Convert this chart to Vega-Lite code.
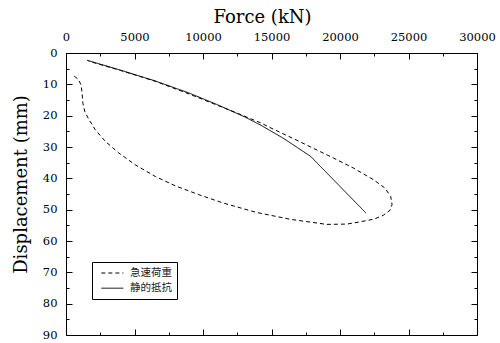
{
  "$schema": "https://vega.github.io/schema/vega-lite/v6.json",
  "width": 411,
  "height": 282,
  "autosize": {"type": "none"},
  "padding": {"left": 66, "top": 53, "right": 23, "bottom": 8},
  "background": "white",
  "config": {
    "view": {"stroke": "black", "strokeWidth": 1},
    "axis": {
      "domain": false, "tickColor": "black", "labelColor": "black", "titleColor": "black",
      "grid": false, "labelFont": "DejaVu Serif", "titleFont": "DejaVu Serif",
      "labelFontSize": 11.5, "titleFontSize": 18, "titleFontWeight": "normal",
      "ticks": true, "tickSize": 6, "tickWidth": 1, "offset": -6
    }
  },
  "data": {"values": [
    {"series": "急速荷重", "order": 1, "force": 600, "disp": 7.4},
    {"series": "急速荷重", "order": 2, "force": 900, "disp": 8.4},
    {"series": "急速荷重", "order": 3, "force": 1100, "disp": 10.2},
    {"series": "急速荷重", "order": 4, "force": 1180, "disp": 13},
    {"series": "急速荷重", "order": 5, "force": 1230, "disp": 16},
    {"series": "急速荷重", "order": 6, "force": 1380, "disp": 18.8},
    {"series": "急速荷重", "order": 7, "force": 1680, "disp": 21.3},
    {"series": "急速荷重", "order": 8, "force": 2140, "disp": 24.5},
    {"series": "急速荷重", "order": 9, "force": 2870, "disp": 28.2},
    {"series": "急速荷重", "order": 10, "force": 3850, "disp": 31.9},
    {"series": "急速荷重", "order": 11, "force": 5060, "disp": 35.7},
    {"series": "急速荷重", "order": 12, "force": 6520, "disp": 39.4},
    {"series": "急速荷重", "order": 13, "force": 7980, "disp": 42.4},
    {"series": "急速荷重", "order": 14, "force": 9690, "disp": 45.2},
    {"series": "急速荷重", "order": 15, "force": 11480, "disp": 47.9},
    {"series": "急速荷重", "order": 16, "force": 13920, "disp": 50.9},
    {"series": "急速荷重", "order": 17, "force": 16400, "disp": 53.1},
    {"series": "急速荷重", "order": 18, "force": 19030, "disp": 54.7},
    {"series": "急速荷重", "order": 19, "force": 20500, "disp": 54.6},
    {"series": "急速荷重", "order": 20, "force": 21460, "disp": 53.9},
    {"series": "急速荷重", "order": 21, "force": 22500, "disp": 53.0},
    {"series": "急速荷重", "order": 22, "force": 23160, "disp": 51.8},
    {"series": "急速荷重", "order": 23, "force": 23650, "disp": 50.2},
    {"series": "急速荷重", "order": 24, "force": 23800, "disp": 48.4},
    {"series": "急速荷重", "order": 25, "force": 23700, "disp": 45.8},
    {"series": "急速荷重", "order": 26, "force": 23280, "disp": 43.1},
    {"series": "急速荷重", "order": 27, "force": 22430, "disp": 40.4},
    {"series": "急速荷重", "order": 28, "force": 20970, "disp": 36.7},
    {"series": "急速荷重", "order": 29, "force": 19510, "disp": 33.5},
    {"series": "急速荷重", "order": 30, "force": 18050, "disp": 30.4},
    {"series": "急速荷重", "order": 31, "force": 16590, "disp": 27.3},
    {"series": "急速荷重", "order": 32, "force": 15130, "disp": 24.3},
    {"series": "急速荷重", "order": 33, "force": 14160, "disp": 22.2},
    {"series": "急速荷重", "order": 34, "force": 12500, "disp": 19.2},
    {"series": "急速荷重", "order": 35, "force": 11000, "disp": 16.6},
    {"series": "急速荷重", "order": 36, "force": 9000, "disp": 13.1},
    {"series": "急速荷重", "order": 37, "force": 6500, "disp": 9.0},
    {"series": "急速荷重", "order": 38, "force": 4000, "disp": 5.6},
    {"series": "急速荷重", "order": 39, "force": 1650, "disp": 2.6},
    {"series": "静的抵抗", "order": 1, "force": 1530, "disp": 2.3},
    {"series": "静的抵抗", "order": 2, "force": 4000, "disp": 5.5},
    {"series": "静的抵抗", "order": 3, "force": 6500, "disp": 8.9},
    {"series": "静的抵抗", "order": 4, "force": 9000, "disp": 12.8},
    {"series": "静的抵抗", "order": 5, "force": 11000, "disp": 16.4},
    {"series": "静的抵抗", "order": 6, "force": 13000, "disp": 20.3},
    {"series": "静的抵抗", "order": 7, "force": 14160, "disp": 22.9},
    {"series": "静的抵抗", "order": 8, "force": 15860, "disp": 27.2},
    {"series": "静的抵抗", "order": 9, "force": 17860, "disp": 33.0},
    {"series": "静的抵抗", "order": 10, "force": 21900, "disp": 51.1}
  ]},
  "layer": [
    {
      "mark": {"type": "line", "color": "black", "strokeWidth": 1},
      "encoding": {
        "x": {"field": "force", "type": "quantitative",
          "scale": {"domain": [0, 30000], "nice": false, "zero": false},
          "axis": {"orient": "top", "values": [0,2500,5000,7500,10000,12500,15000,17500,20000,22500,25000,27500,30000],
            "labelExpr": "datum.value % 5000 === 0 ? format(datum.value, 'd') : ''",
            "labelPadding": 11, "labelFlush": false, "labelOverlap": false,
            "tickDash": {"condition": {"test": "datum.value % 5000 !== 0", "value": [0, 3, 3, 0]}, "value": []},
            "title": "Force (kN)", "titlePadding": 5, "titleX": 196}},
        "y": {"field": "disp", "type": "quantitative",
          "scale": {"domain": [0, 90], "reverse": true, "nice": false, "zero": false},
          "axis": {"orient": "left", "values": [0,5,10,15,20,25,30,35,40,45,50,55,60,65,70,75,80,85,90],
            "labelExpr": "datum.value % 10 === 0 ? format(datum.value, 'd') : ''",
            "labelPadding": 9, "labelFlush": false, "labelOverlap": false,
            "tickDash": {"condition": {"test": "datum.value % 10 !== 0", "value": [0, 3, 3, 0]}, "value": []},
            "title": "Displacement (mm)", "titlePadding": 12, "titleY": 131}},
        "strokeDash": {"field": "series", "type": "nominal",
          "scale": {"domain": ["急速荷重", "静的抵抗"], "range": [[4, 3], [1, 0]]},
          "legend": {"orient": "none", "legendX": 26, "legendY": 209, "title": null,
            "strokeColor": "black", "fillColor": "white", "padding": 5, "cornerRadius": 0,
            "labelFont": "Noto Sans CJK JP", "labelFontSize": 10.5, "labelColor": "#222222",
            "symbolType": "M-0.3,0H3.7", "symbolSize": 121, "symbolStrokeColor": "black", "symbolStrokeWidth": 1,
            "rowPadding": 3.2, "labelOffset": 21}},
        "order": {"field": "order", "type": "quantitative"}
      }
    },
    {
      "mark": {"type": "point", "opacity": 0},
      "encoding": {
        "x": {"field": "force", "type": "quantitative",
          "scale": {"domain": [0, 30000], "nice": false, "zero": false},
          "axis": {"orient": "bottom", "values": [0,2500,5000,7500,10000,12500,15000,17500,20000,22500,25000,27500,30000],
            "tickDash": {"condition": {"test": "datum.value % 5000 !== 0", "value": [0, 3, 3, 0]}, "value": []},
            "labels": false, "title": null}},
        "y": {"field": "disp", "type": "quantitative",
          "scale": {"domain": [0, 90], "reverse": true, "nice": false, "zero": false},
          "axis": {"orient": "right", "values": [0,5,10,15,20,25,30,35,40,45,50,55,60,65,70,75,80,85,90],
            "tickDash": {"condition": {"test": "datum.value % 10 !== 0", "value": [0, 3, 3, 0]}, "value": []},
            "labels": false, "title": null}}
      }
    }
  ],
  "resolve": {"axis": {"x": "independent", "y": "independent"}}
}
